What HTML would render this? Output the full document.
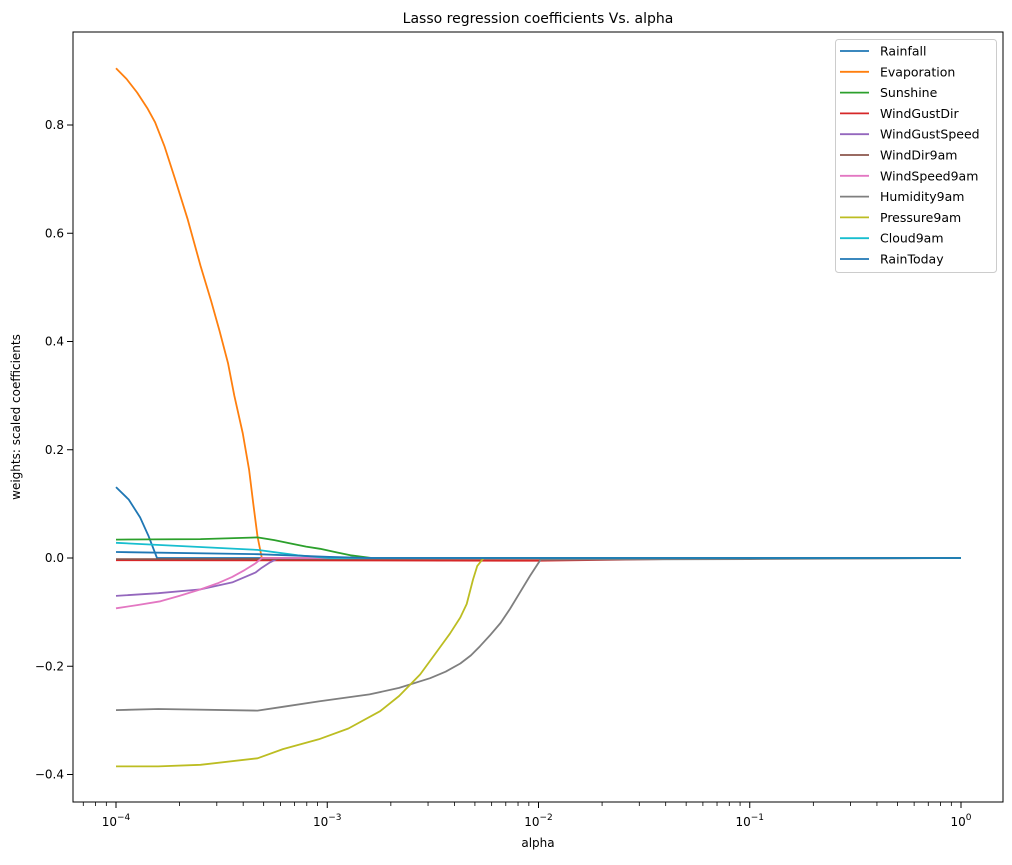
<!DOCTYPE html>
<html><head><meta charset="utf-8"><style>
body{margin:0;background:#fff;font-family:"Liberation Sans","DejaVu Sans",sans-serif;}
svg text{font-family:"DejaVu Sans","Liberation Sans",sans-serif;fill:#000;}
</style></head><body>
<svg id="chart" width="1012" height="860">
<rect width="1012" height="860" fill="#fff"/>
<text x="538" y="23" font-size="14" text-anchor="middle">Lasso regression coefficients Vs. alpha</text>
<text x="538" y="847" font-size="12" text-anchor="middle">alpha</text>
<text x="20" y="417" font-size="12" text-anchor="middle" transform="rotate(-90 20 417)">weights: scaled coefficients</text>
<g id="grid"></g><g id="series"></g>
<rect x="73" y="32" width="930" height="770" fill="none" stroke="#000" stroke-width="1"/>
<g id="legend"></g>
</svg>
<script>
const seriesNames=["Rainfall","Evaporation","Sunshine","WindGustDir","WindGustSpeed","WindDir9am","WindSpeed9am","Humidity9am","Pressure9am","Cloud9am","RainToday"];
const colors=["#1f77b4","#ff7f0e","#2ca02c","#d62728","#9467bd","#8c564b","#e377c2","#7f7f7f","#bcbd22","#17becf","#1f77b4"];
const xTickExps=[-4,-3,-2,-1,0];
const yTicks=[-0.4,-0.2,0.0,0.2,0.4,0.6,0.8];
// log10(alpha) and coefficient values per series
const rainfallX=[-4,-3.94,-3.886,-3.845,-3.806,0];const rainfallY=[0.131,0.108,0.075,0.04,0,0];
const evapX=[-4,-3.95,-3.9,-3.85,-3.815,-3.77,-3.72,-3.66,-3.6,-3.55,-3.51,-3.47,-3.44,-3.40,-3.37,-3.35,-3.33,-3.31,0];
const evapY=[0.905,0.885,0.86,0.83,0.805,0.76,0.70,0.625,0.54,0.475,0.42,0.36,0.30,0.23,0.163,0.1,0.04,0,0];
const sunX=[-4,-3.6,-3.33,-3.25,-3.176,-3.1,-3.034,-2.95,-2.89,-2.79,0];const sunY=[0.034,0.035,0.038,0.033,0.027,0.021,0.017,0.01,0.005,0,0];
const gustDirX=[-4,-2,-1,0];const gustDirY=[-0.004,-0.005,0,0];
const gustSpdX=[-4,-3.8,-3.6,-3.45,-3.34,-3.31,-3.27,-3.23,0];const gustSpdY=[-0.07,-0.065,-0.058,-0.045,-0.027,-0.018,-0.008,0,0];
const dirX=[-4,-1,0];const dirY=[-0.002,-0.001,0];
const windSpdX=[-4,-3.9,-3.79,-3.7,-3.6,-3.52,-3.45,-3.39,-3.34,-3.31,0];const windSpdY=[-0.093,-0.087,-0.08,-0.07,-0.058,-0.047,-0.035,-0.022,-0.01,0,0];
const humX=[-4,-3.8,-3.33,-3.21,-3.04,-2.8,-2.66,-2.513,-2.44,-2.37,-2.32,-2.277,-2.23,-2.18,-2.135,-2.09,-2.04,-1.99,-1,0];
const humY=[-0.281,-0.279,-0.282,-0.275,-0.265,-0.252,-0.24,-0.222,-0.21,-0.195,-0.18,-0.163,-0.143,-0.12,-0.094,-0.065,-0.033,-0.003,-0.002,0];
const presX=[-4,-3.8,-3.6,-3.33,-3.21,-3.04,-2.9,-2.75,-2.66,-2.56,-2.47,-2.42,-2.37,-2.34,-2.31,-2.29,-2.26,0];
const presY=[-0.385,-0.385,-0.382,-0.37,-0.353,-0.335,-0.315,-0.283,-0.255,-0.215,-0.167,-0.14,-0.11,-0.085,-0.04,-0.015,0,0];
const cloudX=[-4,-3.33,-3.14,-2.99,0];const cloudY=[0.028,0.015,0.005,0,0];
const todayX=[-4,-3.33,-2.99,-2.79,0];const todayY=[0.011,0.007,0.002,0,0];
const allX=[rainfallX,evapX,sunX,gustDirX,gustSpdX,dirX,windSpdX,humX,presX,cloudX,todayX];
const allY=[rainfallY,evapY,sunY,gustDirY,gustSpdY,dirY,windSpdY,humY,presY,cloudY,todayY];
const NS="http://www.w3.org/2000/svg";
const sx=l=>116+(l+4)*211.25;
const sy=v=>558-v*541.25;
const grid=document.getElementById('grid'),ser=document.getElementById('series'),leg=document.getElementById('legend');
function mk(t,a,p){const e=document.createElementNS(NS,t);for(const k in a)e.setAttribute(k,a[k]);p.appendChild(e);return e;}
xTickExps.forEach(e=>{
 const x=sx(e);
 const t=mk('line',{x1:x,x2:x,y1:802,y2:808,stroke:'#000'},grid);
 
 
 const tx=mk('text',{x:x,y:826,'font-size':12,'text-anchor':'middle'},grid);
 
 
 tx.innerHTML='10<tspan dy="-6" font-size="9">'+(e<0?'−'+(-e):e)+'</tspan>';
 if(e<0){for(let m=2;m<10;m++){const mx=sx(e+Math.log10(m));const mt=mk('line',{x1:mx,x2:mx,y1:802,y2:806,stroke:'#000','stroke-width':0.8},grid);
 
 }}
});
for(let m=5;m<10;m++){const mx=sx(-5+Math.log10(m));if(mx>73){const mt=mk('line',{x1:mx,x2:mx,y1:802,y2:806,stroke:'#000','stroke-width':0.8},grid);
 
 }}
yTicks.forEach(v=>{
 const y=sy(v);
 const t=mk('line',{x1:67,x2:73,y1:y,y2:y,stroke:'#000'},grid);
 
 
 const tx=mk('text',{x:64,y:y+4,'font-size':12,'text-anchor':'end'},grid);
 
 
 tx.textContent=(v<0?'−':'')+Math.abs(v).toFixed(1);
});
seriesNames.forEach((n,i)=>{
 const pts=allX[i].map((l,j)=>sx(l).toFixed(1)+','+sy(allY[i][j]).toFixed(1)).join(' ');
 const p=mk('polyline',{points:pts,fill:'none',stroke:colors[i],'stroke-width':1.8,'stroke-linejoin':'round'},ser);
 
 
});
const lb=mk('rect',{x:835.5,y:39.5,width:161,height:233,rx:3,fill:'#fff','fill-opacity':0.8,stroke:'#ccc'},leg);


seriesNames.forEach((n,i)=>{
 const y=51+i*20.8;
 const l=mk('line',{x1:840,x2:869,y1:y,y2:y,stroke:colors[i],'stroke-width':1.8},leg);
 
 
 const t=mk('text',{x:880,y:y+4.5,'font-size':12.5},leg);
 
 
 t.textContent=n;
});
</script>
</body></html>
